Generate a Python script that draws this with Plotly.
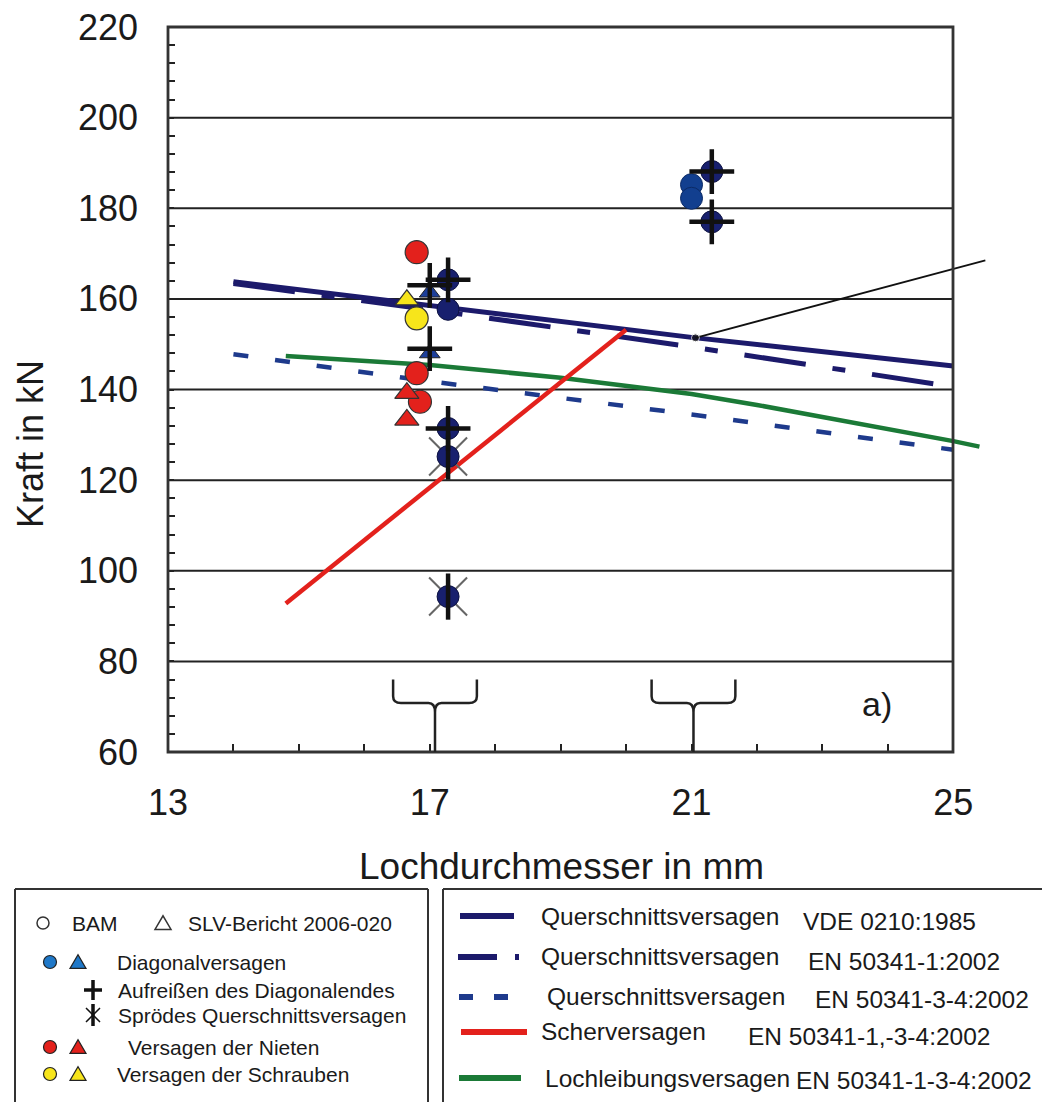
import plotly.graph_objects as go

# ---------------- data ----------------
x_ticks = [13, 17, 21, 25]
y_ticks = [60, 80, 100, 120, 140, 160, 180, 200, 220]

# design lines (Lochdurchmesser mm -> Kraft kN)
d_vde = [14, 17, 21, 25]
f_vde = [163.8, 158.6, 151.5, 145.2]
d_en1 = [14, 17, 21, 25]
f_en1 = [163.4, 157.6, 149.4, 140.6]
d_en34 = [14, 17, 21, 25]
f_en34 = [147.8, 141.8, 134.5, 126.7]
d_scher = [14.8, 20.0]
f_scher = [92.8, 153.2]
d_loch = [14.8, 17, 19, 21, 22, 23, 24, 25, 25.4]
f_loch = [147.4, 145.4, 142.6, 139.0, 136.6, 134.0, 131.3, 128.6, 127.4]
d_pointer = [21.06, 25.49]
f_pointer = [151.4, 168.5]

# test results
diag_circ_d = [17.28, 17.28, 17.28, 17.28, 17.28, 21.31, 21.31]
diag_circ_f = [164.2, 157.7, 131.4, 125.2, 94.3, 188.1, 177.0]
diag_circ2_d = [21.0, 21.0]
diag_circ2_f = [185.2, 182.2]
diag_tri_d = [17.0, 17.0]
diag_tri_f = [161.4, 148.0]
plus_d = [17.28, 17.0, 17.0, 17.28, 21.31, 21.31]
plus_f = [164.2, 163.0, 149.0, 131.4, 188.1, 177.0]
brittle_d = [17.28, 17.28]
brittle_f = [125.2, 94.3]
niet_circ_d = [16.8, 16.8, 16.85]
niet_circ_f = [170.3, 143.6, 137.3]
niet_tri_d = [16.65, 16.65]
niet_tri_f = [139.2, 133.3]
schr_circ_d = [16.8]
schr_circ_f = [155.7]
schr_tri_d = [16.65]
schr_tri_f = [159.8]

brace_centers = [17.08, 21.03]
label_a = "a)"

# ---------------- style ----------------
FONT = "Liberation Sans, Arial, sans-serif"
NAVY_LINE = "#1c1a6b"
DASH_BLUE = "#1e3a8c"
RED = "#e3211c"
GREEN = "#1b7a37"
NAVY_MARK = "#18206e"
BLUE2 = "#123f8f"
TRI_BLUE = "#1d3f9a"
YELLOW = "#f7e51b"
LEG_BLUE = "#1f78c8"

OFF = 8  # page body margin
W, H = 1042, 1094
ML, MR, MT, MB = 160, 64, 19, 350
PW = W - ML - MR
PH = H - MT - MB


def px(x):
    return (x - OFF - ML) / PW


def py(y):
    return (H - MB - (y - OFF)) / PH


fig = go.Figure()

# lines
fig.add_trace(go.Scatter(x=d_en34, y=f_en34, mode="lines",
                         line=dict(color=DASH_BLUE, width=4.5, dash="15px,27px")))
fig.add_trace(go.Scatter(x=d_en1, y=f_en1, mode="lines",
                         line=dict(color=NAVY_LINE, width=5, dash="62px,27px,13px,27px")))
fig.add_trace(go.Scatter(x=d_vde, y=f_vde, mode="lines",
                         line=dict(color=NAVY_LINE, width=5)))
fig.add_trace(go.Scatter(x=d_loch, y=f_loch, mode="lines",
                         line=dict(color=GREEN, width=4.5)))
fig.add_trace(go.Scatter(x=d_scher, y=f_scher, mode="lines",
                         line=dict(color=RED, width=4.5)))
fig.add_trace(go.Scatter(x=d_pointer, y=f_pointer, mode="lines+markers",
                         line=dict(color="#111111", width=1.8),
                         marker=dict(size=[8, 0], color="#111111")))

# markers
fig.add_trace(go.Scatter(x=brittle_d, y=brittle_f, mode="markers",
                         marker=dict(symbol="x-thin", size=38,
                                     line=dict(color="#666666", width=2))))
fig.add_trace(go.Scatter(x=niet_circ_d, y=niet_circ_f, mode="markers",
                         marker=dict(symbol="circle", size=23, color=RED,
                                     line=dict(color="#333333", width=1.2))))
fig.add_trace(go.Scatter(x=schr_circ_d, y=schr_circ_f, mode="markers",
                         marker=dict(symbol="circle", size=23, color=YELLOW,
                                     line=dict(color="#333333", width=1.2))))
fig.add_trace(go.Scatter(x=niet_tri_d, y=niet_tri_f, mode="markers",
                         marker=dict(symbol="triangle-up", size=21, color=RED,
                                     line=dict(color="#333333", width=1.2))))
fig.add_trace(go.Scatter(x=schr_tri_d, y=schr_tri_f, mode="markers",
                         marker=dict(symbol="triangle-up", size=20, color=YELLOW,
                                     line=dict(color="#333333", width=1.2))))
fig.add_trace(go.Scatter(x=diag_tri_d, y=diag_tri_f, mode="markers",
                         marker=dict(symbol="triangle-up", size=18, color=TRI_BLUE,
                                     line=dict(color="#222222", width=1))))
fig.add_trace(go.Scatter(x=diag_circ2_d, y=diag_circ2_f, mode="markers",
                         marker=dict(symbol="circle", size=22, color=BLUE2,
                                     line=dict(color="#0b2a66", width=1))))
fig.add_trace(go.Scatter(x=diag_circ_d, y=diag_circ_f, mode="markers",
                         marker=dict(symbol="circle", size=22, color=NAVY_MARK,
                                     line=dict(color="#0d1240", width=1))))
fig.add_trace(go.Scatter(x=brittle_d, y=brittle_f, mode="markers",
                         marker=dict(symbol="line-ns", size=33,
                                     line=dict(color="#111111", width=4.5))))
fig.add_trace(go.Scatter(x=plus_d, y=plus_f, mode="markers",
                         marker=dict(symbol="cross-thin", size=32,
                                     line=dict(color="#111111", width=4.5))))

shapes = []
xr = px(953)
# gridlines
for v in y_ticks[1:-1]:
    shapes.append(dict(type="line", xref="paper", yref="y", x0=0, x1=xr, y0=v, y1=v,
                       line=dict(color="#222222", width=2), layer="below"))
# frame
shapes.append(dict(type="rect", xref="paper", yref="paper", x0=0, x1=xr, y0=0, y1=1,
                   line=dict(color="#333333", width=2.8), layer="above"))

# braces
hw, ytop, ymid = 0.64, 76.0, 70.8
for c in brace_centers:
    path = (f"M{c-hw},{ytop} L{c-hw},{ymid+1.5} Q{c-hw},{ymid} {c-hw+0.12},{ymid} "
            f"L{c-0.1},{ymid} Q{c},{ymid} {c},{ymid-2} L{c},60 "
            f"M{c},{ymid-2} Q{c},{ymid} {c+0.1},{ymid} L{c+hw-0.12},{ymid} "
            f"Q{c+hw},{ymid} {c+hw},{ymid+1.5} L{c+hw},{ytop}")
    shapes.append(dict(type="path", xref="x", yref="y", path=path,
                       line=dict(color="#222222", width=2.5)))

# legend boxes
box_col = "#333333"
for (x0, x1) in [(15, 428), (443, 1048)]:
    shapes.append(dict(type="line", xref="paper", yref="paper", x0=px(x0), x1=px(x1),
                       y0=py(889), y1=py(889), line=dict(color=box_col, width=2)))
    shapes.append(dict(type="line", xref="paper", yref="paper", x0=px(x0), x1=px(x0),
                       y0=py(889), y1=py(1115), line=dict(color=box_col, width=2)))
    shapes.append(dict(type="line", xref="paper", yref="paper", x0=px(x1), x1=px(x1),
                       y0=py(889), y1=py(1115), line=dict(color=box_col, width=2)))


def circ(xc, yc, r, fill, edge="#222222", w=1.2):
    shapes.append(dict(type="circle", xref="paper", yref="paper",
                       xsizemode="pixel", ysizemode="pixel",
                       xanchor=px(xc), yanchor=py(yc),
                       x0=-r, x1=r, y0=-r, y1=r,
                       fillcolor=fill, line=dict(color=edge, width=w)))


def tri(xc, yc, s, fill, edge="#222222", w=1.2):
    shapes.append(dict(type="path", xref="paper", yref="paper",
                       xsizemode="pixel", ysizemode="pixel",
                       xanchor=px(xc), yanchor=py(yc),
                       path=f"M{-s},{-0.8*s} L{s},{-0.8*s} L0,{0.9*s} Z",
                       fillcolor=fill, line=dict(color=edge, width=w)))


def pix_path(xc, yc, path, color, w):
    shapes.append(dict(type="path", xref="paper", yref="paper",
                       xsizemode="pixel", ysizemode="pixel",
                       xanchor=px(xc), yanchor=py(yc), path=path,
                       line=dict(color=color, width=w)))


# left legend symbols
circ(43, 923, 6, "white", "#333333", 1.5)
tri(163, 923, 8, "white", "#333333", 1.5)
circ(50, 962, 6.5, LEG_BLUE)
tri(78, 962, 8, LEG_BLUE)
pix_path(93, 990, "M0,-10 L0,10 M-9,0 L9,0", "#111111", 3.5)
pix_path(93, 1015, "M0,-11 L0,11", "#111111", 3.5)
pix_path(93, 1015, "M-7,-7 L7,7 M-7,7 L7,-7", "#111111", 1.5)
circ(50, 1047, 6.5, RED)
tri(78, 1047, 8, RED)
circ(50, 1074, 6.5, YELLOW)
tri(78, 1074, 8, YELLOW)


# right legend line samples
def lsample(x0, x1, y, color, w=6):
    shapes.append(dict(type="line", xref="paper", yref="paper", x0=px(x0), x1=px(x1),
                       y0=py(y), y1=py(y), line=dict(color=color, width=w)))


lsample(460, 514, 916, NAVY_LINE)
lsample(458, 497, 957, NAVY_LINE)
lsample(515, 519, 957, NAVY_LINE)
lsample(459, 473, 997, DASH_BLUE)
lsample(494, 508, 997, DASH_BLUE)
lsample(461, 527, 1032, RED)
lsample(459, 521, 1078, GREEN)

annotations = []


def txt(x, y, s, size, anchor="left", angle=0, color="#1a1a1a"):
    annotations.append(dict(text=s, x=px(x), y=py(y), xref="paper", yref="paper",
                            xanchor=anchor, yanchor="middle", showarrow=False,
                            textangle=angle, font=dict(family=FONT, size=size, color=color)))


# axis titles
txt(561, 866, "Lochdurchmesser in mm", 37, anchor="center")
txt(30, 444, "Kraft in kN", 36, anchor="center", angle=-90)

# left legend texts
LS = 21
txt(70, 923, "BAM", LS)
txt(186, 923, "SLV-Bericht 2006-020", LS)
txt(115, 962, "Diagonalversagen", LS)
txt(116, 990, "Aufreißen des Diagonalendes", LS)
txt(116, 1015, "Sprödes Querschnittsversagen", LS)
txt(126, 1047, "Versagen der Nieten", LS)
txt(115, 1074, "Versagen der Schrauben", LS)

# right legend texts
RS = 24.5
txt(539, 916, "Querschnittsversagen", RS)
txt(801, 921, "VDE 0210:1985", RS)
txt(539, 957, "Querschnittsversagen", RS)
txt(806, 961, "EN 50341-1:2002", RS)
txt(545, 996, "Querschnittsversagen", RS)
txt(813, 999, "EN 50341-3-4:2002", RS)
txt(539, 1031, "Scherversagen", RS)
txt(746, 1036, "EN 50341-1,-3-4:2002", RS)
txt(543, 1078, "Lochleibungsversagen", RS)
txt(794, 1080, "EN 50341-1-3-4:2002", RS)

# a) label
annotations.append(dict(text=label_a, x=23.83, y=70.6, xref="x", yref="y",
                        xanchor="center", yanchor="middle", showarrow=False,
                        font=dict(family=FONT, size=34, color="#1a1a1a")))

fig.update_layout(
    width=W, height=H, autosize=False,
    margin=dict(l=ML, r=MR, t=MT, b=MB, pad=0, autoexpand=False),
    paper_bgcolor="white", plot_bgcolor="white",
    showlegend=False,
    shapes=shapes, annotations=annotations,
    font=dict(family=FONT, color="#1a1a1a"),
    xaxis=dict(range=[13, 25.5], tickmode="array", tickvals=x_ticks,
               ticktext=[str(v) for v in x_ticks], automargin=False,
               ticks="inside", ticklen=8, tickwidth=2.2, tickcolor="#222222",
               minor=dict(tickmode="array",
                          tickvals=[v for v in range(x_ticks[0], x_ticks[-1] + 1)],
                          ticks="inside", ticklen=8, tickwidth=2.2, tickcolor="#222222"),
               showgrid=False, zeroline=False, showline=False,
               tickfont=dict(family=FONT, size=36, color="#1a1a1a"),
               ticklabelstandoff=26, ticklabeloverflow="allow"),
    yaxis=dict(range=[60, 220], tickmode="array", tickvals=y_ticks,
               ticktext=[str(v) for v in y_ticks], automargin=False,
               ticks="inside", ticklen=6, tickwidth=2.2, tickcolor="#222222",
               minor=dict(tickmode="array",
                          tickvals=[v for v in range(y_ticks[0], y_ticks[-1], 4) if v % 20],
                          ticks="inside", ticklen=7, tickwidth=2.2, tickcolor="#222222"),
               showgrid=False, zeroline=False, showline=False,
               tickfont=dict(family=FONT, size=36, color="#1a1a1a"),
               ticklabelstandoff=29, ticklabeloverflow="allow"),
)

fig.write_html("out.html")
